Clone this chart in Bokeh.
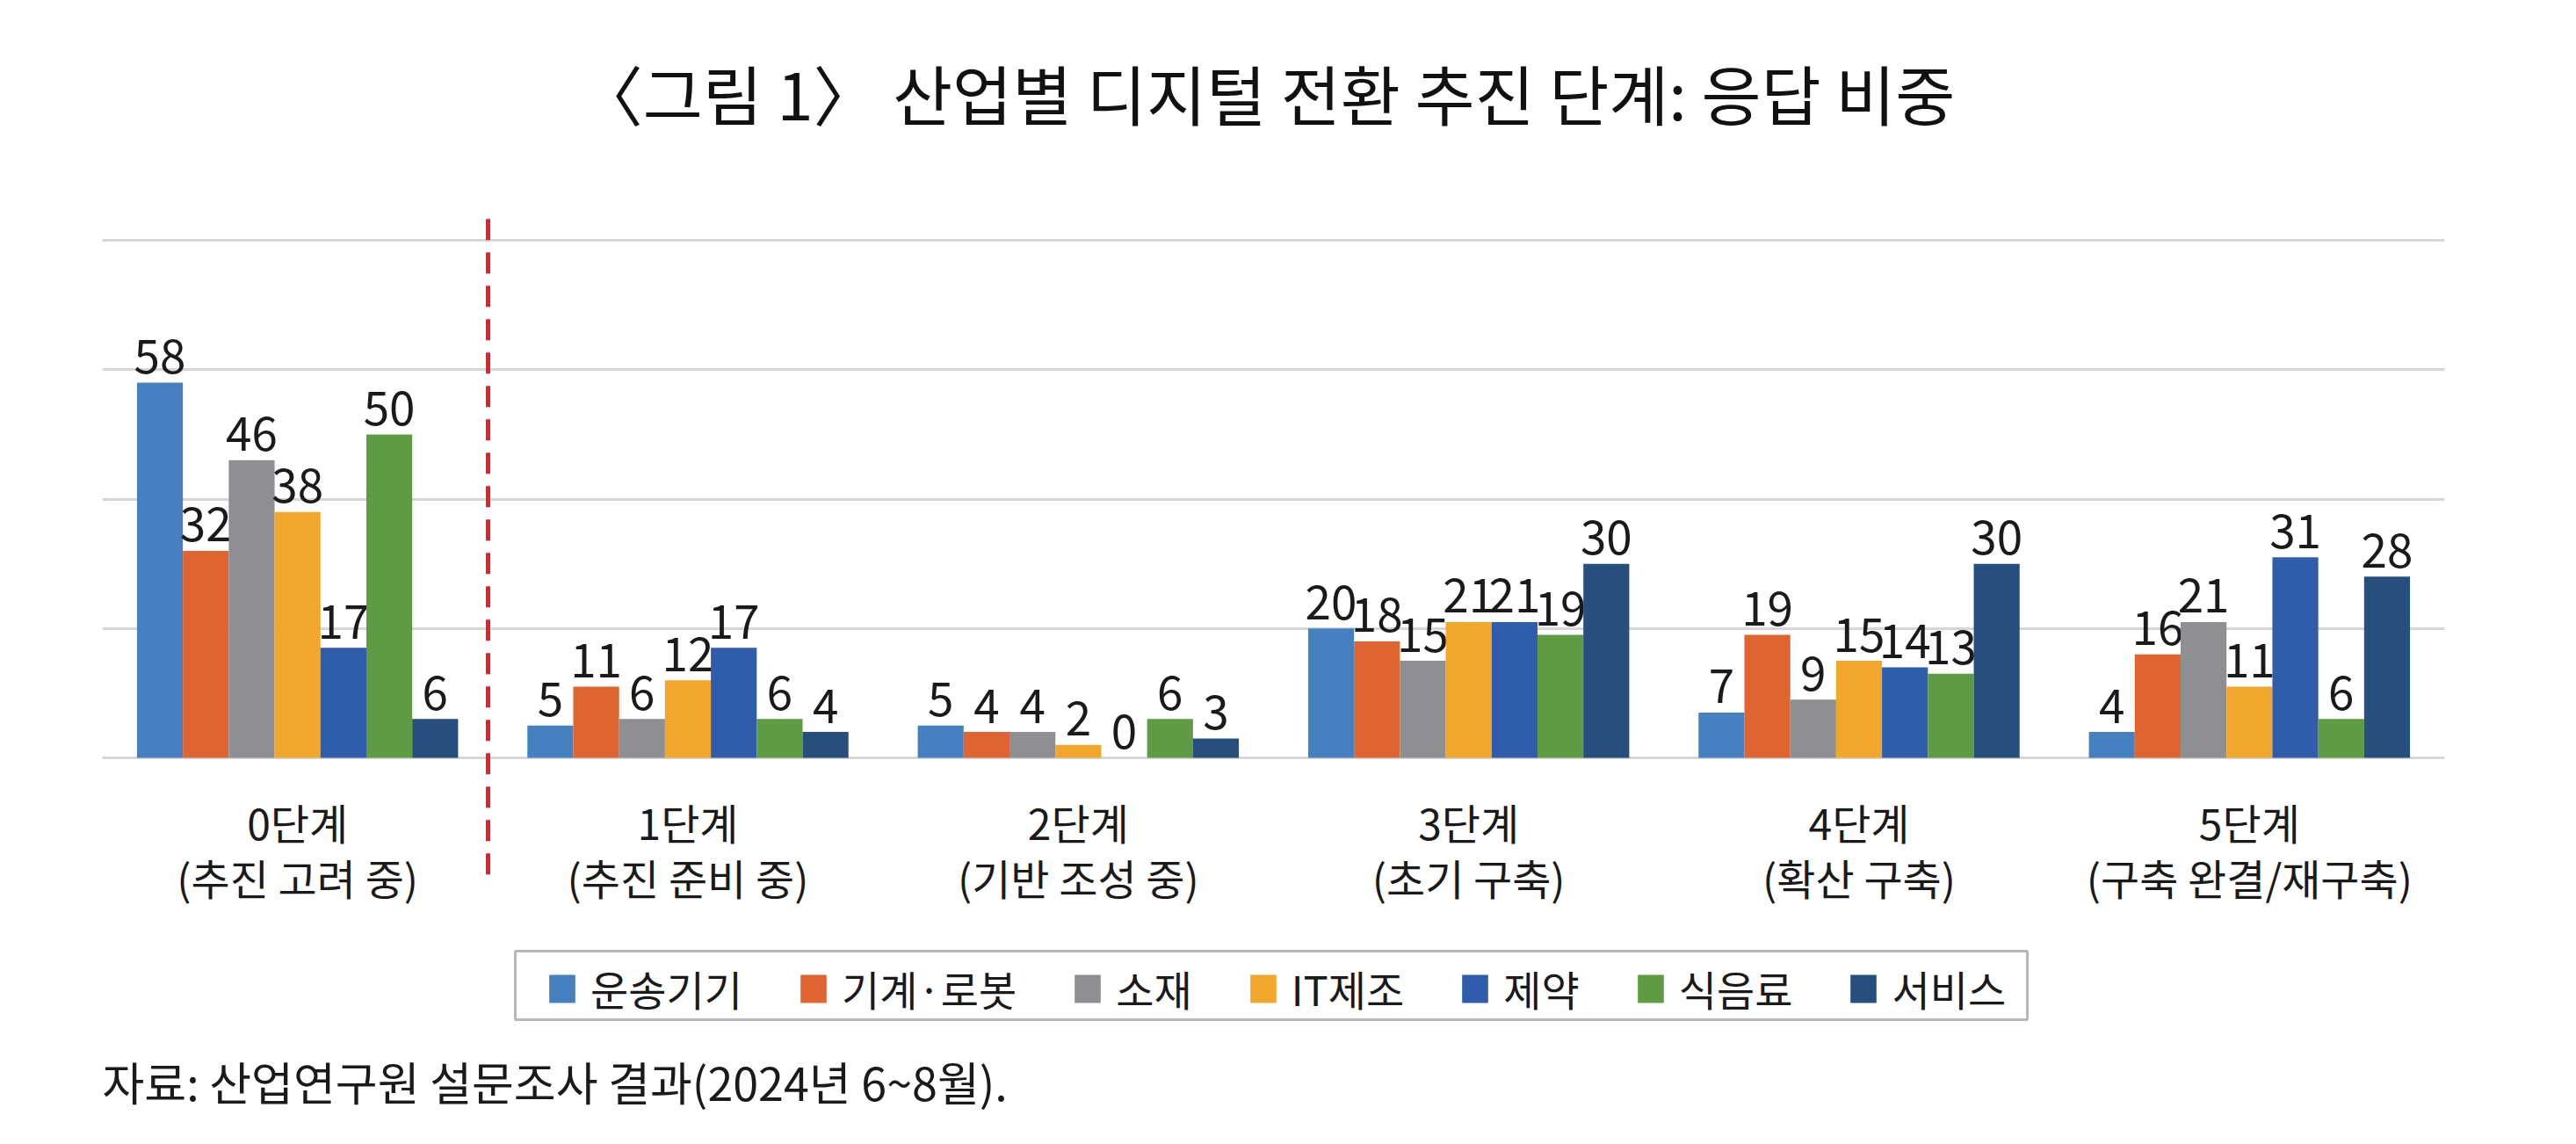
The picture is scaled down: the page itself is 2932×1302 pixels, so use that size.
from bokeh.plotting import figure
from bokeh.models import (ColumnDataSource, FactorRange, Legend, LegendItem, Label,
                          Arrow, FixedTicker, BoxAnnotation)
from bokeh.transform import dodge
from bokeh.embed import file_html
from bokeh.resources import INLINE
from bokeh.core.properties import value

# ---------------- data ----------------
stages = ["0단계\n(추진 고려 중)", "1단계\n(추진 준비 중)", "2단계\n(기반 조성 중)",
          "3단계\n(초기 구축)", "4단계\n(확산 구축)", "5단계\n(구축 완결/재구축)"]
series_names = ["운송기기", "기계·로봇", "소재", "IT제조", "제약", "식음료", "서비스"]

transport = [58, 5, 5, 20, 7, 4]
machinery = [32, 11, 4, 18, 19, 16]
materials = [46, 6, 4, 15, 9, 21]
it_mfg = [38, 12, 2, 21, 15, 11]
pharma = [17, 17, 0, 21, 14, 31]
food = [50, 6, 6, 19, 13, 6]
services = [6, 4, 3, 30, 30, 28]

grid_ticks = [0, 20, 40, 60, 80]

title_text = "〈그림 1〉 산업별 디지털 전환 추진 단계: 응답 비중"
source_text = "자료: 산업연구원 설문조사 결과(2024년 6~8월)."

# ---------------- style / layout ----------------
colors = ["#4581C1", "#DE6431", "#8E8F93", "#F0A72B", "#305CAC", "#5E9B42", "#274F7E"]
FONT = "Noto Sans CJK KR"
TXT = "#1A1A1A"
keys = ["transport", "machinery", "materials", "it_mfg", "pharma", "food", "services"]
columns = [transport, machinery, materials, it_mfg, pharma, food, services]

W, H = 2916, 1286
PX_PER_UNIT = 7.3625          # vertical pixels per percentage point
ZERO_PX = 862                 # pixel row (from top of figure) of the zero line
Y_START = -(H - ZERO_PX) / PX_PER_UNIT
Y_END = ZERO_PX / PX_PER_UNIT

data = {"stage": stages}
for k, col in zip(keys, columns):
    data[k] = col
    data[k + "_lbl"] = [str(v) for v in col]
src = ColumnDataSource(data)

p = figure(x_range=FactorRange(factors=stages), y_range=(Y_START, Y_END),
           width=W, height=H, output_backend="svg", toolbar_location=None,
           x_axis_location=None, y_axis_location=None,
           min_border_left=116, min_border_right=134, min_border_top=0,
           min_border_bottom=0, outline_line_color=None,
           background_fill_color="white", border_fill_color="white")

p.xgrid.visible = False
p.ygrid.ticker = FixedTicker(ticks=grid_ticks)
p.ygrid.grid_line_color = "#D6D6D6"
p.ygrid.grid_line_width = 3

bw = 0.1175
items = []
for i, (k, name, c) in enumerate(zip(keys, series_names, colors)):
    off = (i - 3) * bw
    r = p.vbar(x=dodge("stage", off, range=p.x_range), top=k, bottom=0, width=bw,
               source=src, fill_color=c, line_color=None)
    p.text(x=dodge("stage", off, range=p.x_range), y=k, text=k + "_lbl", source=src,
           text_align="center", text_baseline="alphabetic", y_offset=-30,
           text_font=value(FONT), text_font_size="53px", text_color=TXT)
    items.append(LegendItem(label=name, renderers=[r]))

# category labels under each group (two lines)
p.text(x="stage", y=-14.13, text="stage", source=src, text_align="center",
       text_baseline="middle", text_font=value(FONT), text_font_size="48px",
       text_color=TXT, text_line_height=0.91)

# red dashed separator between stage 0 and stage 1
p.add_layout(Arrow(end=None, x_start=0.988, x_end=0.988, y_start=83.3, y_end=-19.7,
                   line_color="#E5202E", line_width=5, line_dash="24 14"))

# title and source note (screen units, relative to the plot frame's bottom-left)
p.add_layout(Label(x=1325, y=1182, x_units="screen", y_units="screen", text=title_text,
                   text_align="center", text_baseline="middle", text_font=FONT,
                   text_font_size="74px", text_color="#111111"))
p.add_layout(Label(x=0, y=56, x_units="screen", y_units="screen", text=source_text,
                   text_align="left", text_baseline="middle", text_font=FONT,
                   text_font_size="52px", text_color=TXT))

# legend with a separate frame box (wider side padding than top/bottom)
legend = Legend(items=items, orientation="horizontal", location=(505, 127),
                label_text_font=FONT, label_text_font_size="47px", label_text_color=TXT,
                glyph_width=37, glyph_height=40, label_standoff=14, spacing=62,
                padding=4, margin=0, border_line_color=None,
                background_fill_alpha=0)
p.add_layout(legend, "center")
p.add_layout(BoxAnnotation(left=470, right=2191, bottom=126, top=204,
                           left_units="screen", right_units="screen",
                           bottom_units="screen", top_units="screen",
                           fill_color=None, line_color="#111111", line_width=3,
                           level="overlay"))

open("out.html", "w").write(file_html(p, INLINE))
